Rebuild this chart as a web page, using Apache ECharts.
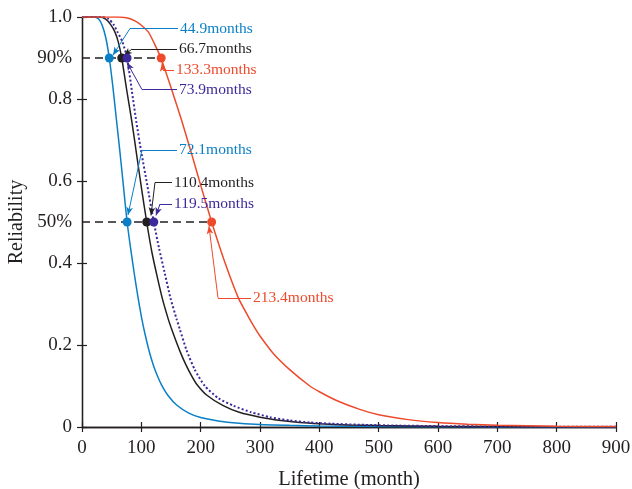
<!DOCTYPE html>
<html>
<head>
<meta charset="utf-8">
<script src="https://cdn.jsdelivr.net/npm/echarts@6/dist/echarts.min.js"></script>
<style>
html,body{margin:0;padding:0;background:#fff;}
#chart{width:632px;height:489px;}
</style>
</head>
<body>
<div id="chart"></div>
<script>
// ---- Data ----
const blueT = [0,20,28,34,40,46,52,58,64,70,76,82,88,94,100,106,113,120,127,134,145,160,180,200,225,250,300,350,400,500,600,700,800,900];
const blueR = [1,1,0.995,0.98,0.95,0.90,0.83,0.75,0.67,0.585,0.50,0.435,0.375,0.32,0.27,0.228,0.186,0.152,0.125,0.103,0.077,0.053,0.034,0.023,0.016,0.011,0.006,0.004,0.0025,0.0012,0.0006,0.0003,0.0002,0.0001];

const blackT = [0,30,40,48,55,61,67,75,84,92,100,109,118,127,136,145,150,157,165,175,185,193,210,238,265,300,335,367,400,450,500,600,700,800,900];
const blackR = [1,1,0.995,0.982,0.965,0.94,0.90,0.825,0.745,0.665,0.585,0.50,0.425,0.365,0.31,0.265,0.243,0.215,0.185,0.152,0.124,0.105,0.078,0.052,0.036,0.024,0.016,0.011,0.008,0.005,0.0035,0.0018,0.001,0.0006,0.0004];

const purpleT = [0,35,45,53,60,68,76,84,91.5,100,110,121,130,139,149,159.5,165,176,190,207,230,255,285,317,350,384,420,470,530,600,700,800,900];
const purpleR = [1,1,0.995,0.982,0.963,0.94,0.90,0.82,0.745,0.67,0.59,0.50,0.435,0.378,0.315,0.263,0.238,0.188,0.14,0.10,0.07,0.052,0.036,0.024,0.016,0.011,0.008,0.0055,0.0035,0.0022,0.0012,0.0007,0.0005];

const redT = [0,60,75,90,100,112,122,133,150,168.5,185,200,218.5,240,263.5,280,292,300,322,350,384,400,430,468,500,550,600,650,700,800,900];
const redR = [1,1,0.998,0.99,0.98,0.963,0.935,0.90,0.828,0.745,0.665,0.59,0.50,0.405,0.315,0.27,0.24,0.222,0.18,0.14,0.10,0.086,0.064,0.043,0.03,0.018,0.011,0.007,0.0045,0.002,0.001];

// marked points (lifetime at 90% and 50% reliability)
const markLevels = [0.9, 0.5];
const blueMarks = [46, 76];
const blackMarks = [67, 109];
const purpleMarks = [76, 121];
const redMarks = [133.5, 218.5];

// annotation texts
const blueLabels = ['44.9months', '72.1months'];
const blackLabels = ['66.7months', '110.4months'];
const purpleLabels = ['73.9months', '119.5months'];
const redLabels = ['133.3months', '213.4months'];

// tick labels
const xTicks = [0,100,200,300,400,500,600,700,800,900];
const yTickValues = [0, 0.2, 0.4, 0.5, 0.6, 0.8, 0.9, 1.0];
const yTickLabels = ['0', '0.2', '0.4', '50%', '0.6', '0.8', '90%', '1.0'];

// ---- styles ----
const FONT = 'Liberation Serif';
const AX = '#231f20';
const C = {blue:'#0a7fc6', black:'#231f20', purple:'#3c2a9c', red:'#ee4a2c'};

function zip(a, b){ return a.map((v,i)=>[v, b[i]]); }

// leader lines: [textEnd, corner, arrowTip] in data units (placement only)
const leaders = {
  blue:   [[[161.8,0.972],[80.9,0.972],[52.2,0.907]], [[160.1,0.676],[101.1,0.676],[77.5,0.517]]],
  black:  [[[160.1,0.922],[84.3,0.922],[70.8,0.906]], [[151.7,0.596],[123.0,0.596],[116.3,0.516]]],
  purple: [[[160.1,0.823],[101.1,0.823],[75.8,0.889]], [[151.7,0.544],[131.5,0.544],[124.7,0.516]]],
  red:    [[[155.1,0.871],[136.5,0.871],[134.8,0.887]], [[284.8,0.315],[229.2,0.315],[214.0,0.49]]]
};

function buildMarkLine(color, legs, texts){
  const data = [];
  legs.forEach((p, i) => {
    data.push([
      {coord: p[1], symbol: 'none'},
      {coord: p[0], symbol: 'none',
       label: {show: true, position: 'end', formatter: texts[i], distance: 2,
               color: color, fontFamily: FONT, fontSize: 15.5}}
    ]);
    data.push([
      {coord: p[1], symbol: 'none'},
      {coord: p[2], symbol: 'arrow', symbolSize: [5, 8]}
    ]);
  });
  return {
    silent: true, animation: false,
    symbol: ['none', 'none'],
    lineStyle: {color: color, width: 1, type: 'solid', opacity: 1},
    label: {show: false},
    emphasis: {disabled: true},
    data: data
  };
}

function curve(name, T, R, color, type, width){
  return {
    name, type: 'line', data: zip(T, R), showSymbol: false, symbol: 'none',
    smooth: 0.2, z: 3,
    lineStyle: {color, width, type, cap: 'butt'}, silent: true
  };
}

function marks(name, xs, color, texts, legs){
  return {
    name, type: 'scatter', data: xs.map((x,i)=>[x, markLevels[i]]),
    symbol: 'circle', symbolSize: 9, z: 5, silent: true,
    itemStyle: {color, opacity: 1},
    markLine: buildMarkLine(color, legs, texts)
  };
}

const guides = markLevels.map((lv, i) => ({
  type: 'line', data: [[0, lv], [redMarks[i], lv]], showSymbol: false, symbol: 'none', z: 2,
  lineStyle: {color: AX, width: 1.3, type: [8, 5]}, silent: true
}));

const chart = echarts.init(document.getElementById('chart'), null, {renderer: 'canvas'});
const axLine = {show: true, lineStyle: {color: AX, width: 1.3}};
const inTick = {show: true, inside: true, length: 5, lineStyle: {color: AX, width: 1.2}};

chart.setOption({
  animation: false,
  backgroundColor: '#fff',
  grid: {left: 82, right: 16, top: 17, bottom: 62, containLabel: false, outerBoundsMode: 'none'},
  xAxis: [
    {type: 'value', min: xTicks[0], max: xTicks[xTicks.length-1], interval: 100, position: 'bottom',
     axisLine: axLine, axisTick: inTick, splitLine: {show: false},
     axisLabel: {color: AX, fontFamily: FONT, fontSize: 19, margin: 12},
     name: 'Lifetime (month)', nameLocation: 'middle', nameGap: 42,
     nameTextStyle: {color: AX, fontFamily: FONT, fontSize: 20.5}},
    {type: 'value', min: xTicks[0], max: xTicks[xTicks.length-1], interval: 100, position: 'top',
     axisLine: axLine, axisTick: inTick, axisLabel: {show: false}, splitLine: {show: false}}
  ],
  yAxis: [
    {type: 'value', min: 0, max: 1, interval: 0.1, position: 'left',
     axisLine: axLine, axisTick: {show: false}, splitLine: {show: false},
     axisLabel: {color: AX, fontFamily: FONT, fontSize: 19, margin: 10,
       formatter: v => { const k = yTickValues.findIndex(t => Math.abs(t - v) < 1e-6); return k >= 0 ? yTickLabels[k] : ''; }},
     name: 'Reliability', nameLocation: 'middle', nameGap: 53, nameRotate: 90,
     nameTextStyle: {color: AX, fontFamily: FONT, fontSize: 20}},
    {type: 'value', min: 0, max: 1, interval: 0.2, position: 'right',
     axisLine: axLine, axisTick: inTick, axisLabel: {show: false}, splitLine: {show: false}},
    {type: 'value', min: 0, max: 1, interval: 0.2, position: 'left',
     axisLine: {show: false}, axisTick: inTick, axisLabel: {show: false}, splitLine: {show: false}}
  ],
  series: [
    ...guides,
    curve('blue', blueT, blueR, C.blue, 'solid', 1.5),
    curve('black', blackT, blackR, C.black, 'solid', 1.5),
    curve('purple', purpleT, purpleR, C.purple, [2, 2.2], 2),
    curve('red', redT, redR, C.red, 'solid', 1.5),
    marks('blueM', blueMarks, C.blue, blueLabels, leaders.blue),
    marks('blackM', blackMarks, C.black, blackLabels, leaders.black),
    marks('purpleM', purpleMarks, C.purple, purpleLabels, leaders.purple),
    marks('redM', redMarks, C.red, redLabels, leaders.red)
  ]
});
</script>
</body>
</html>
